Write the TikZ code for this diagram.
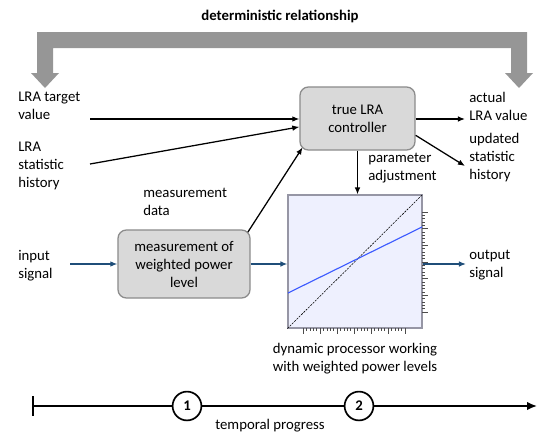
\documentclass[tikz,border=0pt]{standalone}
\usepackage{fontspec}
\setmainfont{Carlito}
\usetikzlibrary{arrows.meta}

\definecolor{boxgray}{RGB}{217,217,217}
\definecolor{boxline}{RGB}{140,140,140}
\definecolor{bargray}{RGB}{150,150,150}
\definecolor{sigblue}{RGB}{31,78,121}
\definecolor{plotfill}{RGB}{238,240,254}
\definecolor{plotline}{RGB}{150,150,165}
\definecolor{curveblue}{RGB}{60,90,255}

\begin{document}
\begin{tikzpicture}[x=0.025cm, y=-0.025cm,
    every node/.style={font=\fontsize{10.5}{12.8}\selectfont},
    lbl/.style={align=left, inner sep=0pt, anchor=west},
    procbox/.style={draw=boxline, fill=boxgray, rounded corners=6pt, line width=0.9pt, align=center, inner sep=0pt},
    sig/.style={-{Latex[length=5pt,width=4pt]}, line width=0.9pt},
    bluesig/.style={sig, color=sigblue},
    tick/.style={draw=black!70, line width=0.3pt},
    stage/.style={circle, draw, line width=1.2pt, minimum size=0.72cm, inner sep=0pt, font=\fontsize{10.5}{12.5}\selectfont\bfseries}]
    \useasboundingbox (0,0) rectangle (560,434);

    % deterministic relationship
    \node at (280,16) {\bfseries deterministic relationship};
    \fill[bargray] (37,73) -- (37,32) -- (527,32) -- (527,73) -- (533,73) -- (519,88) -- (505,73)
        -- (511,73) -- (511,48) -- (53,48) -- (53,73) -- (59,73) -- (45,88) -- (31,73) -- cycle;

    % blocks
    \node[procbox, minimum width=2.875cm, minimum height=1.575cm] (ctrl) at (357.5,118.5) {true LRA\\controller};
    \node[procbox, minimum width=3.3cm, minimum height=1.7cm] (meas) at (184,264) {measurement of\\weighted power\\level};
    \node[draw=plotline, fill=plotfill, line width=0.8pt, minimum width=3.35cm, minimum height=3.325cm, inner sep=0pt] (proc) at (355,261.5) {};

    % plot inside the processor
    \draw[black, line width=0.4pt, dash pattern=on 1.5pt off 0.8pt] (proc.south west) -- (proc.north east);
    \draw[curveblue, line width=0.8pt] (288,293) -- (422,227);
    \foreach \k in {0,...,30} \draw[tick] (422,212+\k*3.333) -- ++(3,0);
    \foreach \k in {0,...,6} \draw[tick] (422,212+\k*16.667) -- ++(6,0);
    \foreach \k in {0,...,30} \draw[tick] (303+\k*3.4,328) -- ++(0,3);
    \foreach \k in {0,...,6} \draw[tick] (303+\k*17,328) -- ++(0,6);

    % texts
    \node[lbl] (tgt) at (18,106) {LRA target\\value};
    \node[lbl] (hist) at (18,165.5) {LRA\\statistic\\history};
    \node[lbl] (inlbl) at (18,265.5) {input\\signal};
    \node[lbl] (mdata) at (143,201.5) {measurement\\data};
    \node[lbl] (padj) at (368,168.5) {parameter\\adjustment};
    \node[lbl] (act) at (469,106) {actual\\LRA value};
    \node[lbl] (upd) at (469,157.5) {updated\\statistic\\history};
    \node[lbl] (outlbl) at (469,265.5) {output\\signal};
    \node[align=center, inner sep=0pt] (cap) at (355,359) {dynamic processor working\\with weighted power levels};

    % connectors
    \coordinate (tgtout) at (90,119);
    \coordinate (histout) at (90,164);
    \coordinate (actin) at (465,119);
    \coordinate (updin) at (465,166);
    \coordinate (sigin) at (70,264);
    \coordinate (sigout) at (466,264);
    \draw[sig] (tgtout) -- (ctrl.west |- tgtout);
    \draw[sig] (histout) -- ([yshift=-0.21cm]ctrl.west);
    \draw[sig] ([shift={(-0.07cm,-0.07cm)}]meas.north east) -- ([shift={(0.08cm,0.08cm)}]ctrl.south west);
    \draw[sig] (ctrl.east |- actin) -- (actin);
    \draw[sig] ([yshift=-0.42cm]ctrl.east) -- (updin);
    \draw[sig] (ctrl.south) -- (ctrl.south |- proc.north);
    \draw[bluesig] (sigin) -- (meas.west);
    \draw[bluesig] (meas.east) -- (proc.west |- meas.east);
    \draw[bluesig] (proc.east |- sigout) -- (sigout);

    % temporal progress
    \coordinate (tstart) at (33,406);
    \coordinate (tend) at (537,406);
    \node[stage] (s1) at (187,406) {1};
    \node[stage] (s2) at (359,406) {2};
    \draw[line width=1.2pt] (33,396) -- (33,416);
    \draw[line width=1.2pt] (tstart) -- (s1);
    \draw[line width=1.2pt] (s1) -- (s2);
    \draw[line width=1.2pt, -{Latex[length=7pt,width=6pt]}] (s2) -- (tend);
    \node (tprog) at (270,426) {temporal progress};
\end{tikzpicture}
\end{document}
